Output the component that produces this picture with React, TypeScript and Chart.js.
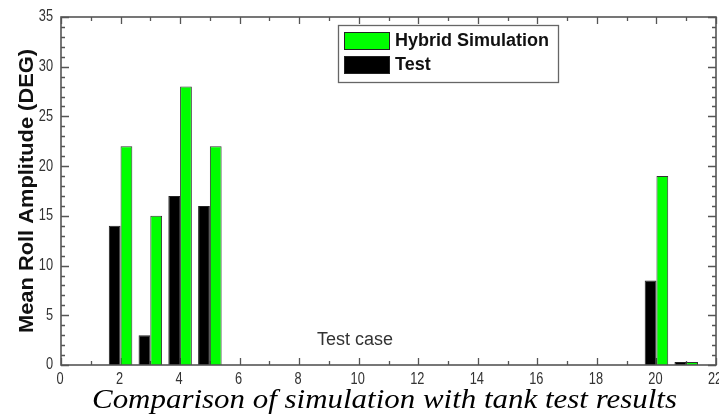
import React, { useEffect, useRef } from "react";
import { Chart, registerables } from "chart.js";

Chart.register(...registerables);

// ---- data ----
const testCases = [2, 3, 4, 5, 20, 21];
const testValues = [14, 3, 17, 16, 8.5, 0.3];
const hybridValues = [22, 15, 28, 22, 19, 0.3];
const seriesLabels = ["Test", "Hybrid Simulation"];
const xRange = [0, 22];
const yRange = [0, 35];
const xStep = 2;
const yStep = 5;
const xTitle = "Test case";
const yTitle = "Mean Roll Amplitude (DEG)";
const caption = "Comparison of simulation with tank test results";

const TICK_FONT = "16px 'Liberation Sans', Arial, sans-serif";
const NARROW = 0.8;

const decorPlugin = {
  id: "decor",
  beforeDatasetsDraw(chart: any) {
    const { ctx, chartArea: a, scales } = chart;
    const xs = scales.x;
    const ys = scales.y;
    ctx.save();
    ctx.strokeStyle = "#555";
    ctx.lineWidth = 1.3;
    ctx.beginPath();
    for (let v = xRange[0]; v <= xRange[1]; v++) {
      const px = Math.round(xs.getPixelForValue(v)) + 0.5;
      const len = v % xStep === 0 ? 7 : 4;
      ctx.moveTo(px, a.bottom);
      ctx.lineTo(px, a.bottom - len);
      ctx.moveTo(px, a.top);
      ctx.lineTo(px, a.top + len);
    }
    for (let v = yRange[0]; v <= yRange[1]; v++) {
      const py = Math.round(ys.getPixelForValue(v)) + 0.5;
      const len = v % yStep === 0 ? 8 : 4;
      ctx.moveTo(a.left, py);
      ctx.lineTo(a.left + len, py);
      ctx.moveTo(a.right, py);
      ctx.lineTo(a.right - len, py);
    }
    ctx.stroke();
    ctx.restore();
  },
  afterDatasetsDraw(chart: any) {
    const { ctx, chartArea: a } = chart;
    ctx.save();
    ctx.strokeStyle = "#555";
    ctx.lineWidth = 1.6;
    ctx.strokeRect(a.left, a.top, a.right - a.left, a.bottom - a.top);
    ctx.restore();
  },
  afterDraw(chart: any) {
    const { ctx, chartArea: a, scales } = chart;

    // tick labels (narrow face, from the library's scale ticks)
    ctx.save();
    ctx.fillStyle = "#333";
    ctx.font = TICK_FONT;
    ctx.textBaseline = "middle";
    ctx.textAlign = "right";
    for (const t of scales.y.ticks) {
      const py = scales.y.getPixelForValue(t.value);
      ctx.save();
      ctx.translate(53, py);
      ctx.scale(NARROW, 1);
      ctx.fillText(String(t.label), 0, 0);
      ctx.restore();
    }
    ctx.textAlign = "center";
    for (const t of scales.x.ticks) {
      const px = scales.x.getPixelForValue(t.value);
      ctx.save();
      ctx.translate(px - 1, a.bottom + 15);
      ctx.scale(NARROW, 1);
      ctx.fillText(String(t.label), 0, 0);
      ctx.restore();
    }
    ctx.restore();

    // y-axis title
    ctx.save();
    ctx.fillStyle = "#111";
    ctx.font = "bold 20px 'Liberation Sans', Arial, sans-serif";
    ctx.textAlign = "center";
    ctx.textBaseline = "middle";
    ctx.translate(27, (a.top + a.bottom) / 2);
    ctx.rotate(-Math.PI / 2);
    const tw = ctx.measureText(yTitle).width;
    ctx.scale(284 / tw, 1);
    ctx.fillText(yTitle, 0, 0);
    ctx.restore();

    // x-axis title inside plot
    ctx.save();
    ctx.fillStyle = "#333";
    ctx.font = "18px 'Liberation Sans', Arial, sans-serif";
    ctx.textAlign = "left";
    ctx.textBaseline = "alphabetic";
    ctx.fillText(xTitle, 317, 345);
    ctx.restore();

    // legend
    ctx.save();
    const lx = 338, ly = 25, lw = 220, lh = 57;
    ctx.fillStyle = "#fff";
    ctx.fillRect(lx, ly, lw, lh);
    ctx.strokeStyle = "#666";
    ctx.lineWidth = 1.3;
    ctx.strokeRect(lx + 0.5, ly + 0.5, lw, lh);
    const ds = chart.data.datasets;
    const order = [1, 0];
    order.forEach((di: number, k: number) => {
      const d = ds[di];
      const sy = 32 + k * 24;
      ctx.fillStyle = d.backgroundColor;
      ctx.fillRect(344, sy, 45, 17);
      ctx.strokeStyle = "#222";
      ctx.lineWidth = 1;
      ctx.strokeRect(344.5, sy + 0.5, 45, 17);
      ctx.fillStyle = "#111";
      ctx.font = "bold 18px 'Liberation Sans', Arial, sans-serif";
      ctx.textAlign = "left";
      ctx.textBaseline = "middle";
      ctx.fillText(d.label, 395, sy + 9);
    });
    ctx.restore();

    // caption
    ctx.save();
    ctx.fillStyle = "#000";
    ctx.font = "italic 28px 'Liberation Serif', 'Times New Roman', serif";
    ctx.textAlign = "left";
    ctx.textBaseline = "alphabetic";
    const cw = ctx.measureText(caption).width;
    ctx.translate(92, 408);
    ctx.scale(585 / cw, 1);
    ctx.fillText(caption, 0, 0);
    ctx.restore();
  },
};

export default function App() {
  const ref = useRef<HTMLCanvasElement | null>(null);
  useEffect(() => {
    if (!ref.current) return;
    const chart = new Chart(ref.current, {
      type: "bar",
      data: {
        datasets: [
          {
            label: seriesLabels[0],
            data: testCases.map((x, i) => ({ x, y: testValues[i] })),
            backgroundColor: "#000000",
            borderColor: "#222222",
            borderWidth: 1,
          },
          {
            label: seriesLabels[1],
            data: testCases.map((x, i) => ({ x, y: hybridValues[i] })),
            backgroundColor: "#00ff00",
            borderColor: "#333333",
            borderWidth: 1,
          },
        ],
      },
      options: {
        animation: false,
        responsive: true,
        maintainAspectRatio: false,
        layout: { padding: { top: 17, right: 3, left: 0, bottom: 0 } },
        datasets: { bar: { categoryPercentage: 0.79, barPercentage: 1 } },
        plugins: { legend: { display: false }, tooltip: { enabled: false } },
        scales: {
          x: {
            type: "linear",
            min: xRange[0],
            max: xRange[1],
            offset: false,
            grid: { display: false, drawTicks: false, drawOnChartArea: false },
            border: { display: false },
            ticks: { stepSize: xStep, display: false, autoSkip: false },
            afterFit(scale: any) {
              scale.height = 53;
              scale.paddingLeft = 0;
              scale.paddingRight = 0;
            },
          },
          y: {
            min: yRange[0],
            max: yRange[1],
            grid: { display: false, drawTicks: false, drawOnChartArea: false },
            border: { display: false },
            ticks: { stepSize: yStep, display: false },
            afterFit(scale: any) {
              scale.width = 61;
              scale.paddingTop = 0;
              scale.paddingBottom = 0;
            },
          },
        },
      } as any,
      plugins: [decorPlugin],
    });
    return () => chart.destroy();
  }, []);
  return (
    <div style={{ position: "absolute", left: 0, top: 0, width: 719, height: 418, background: "#fff" }}>
      <canvas ref={ref} />
    </div>
  );
}
